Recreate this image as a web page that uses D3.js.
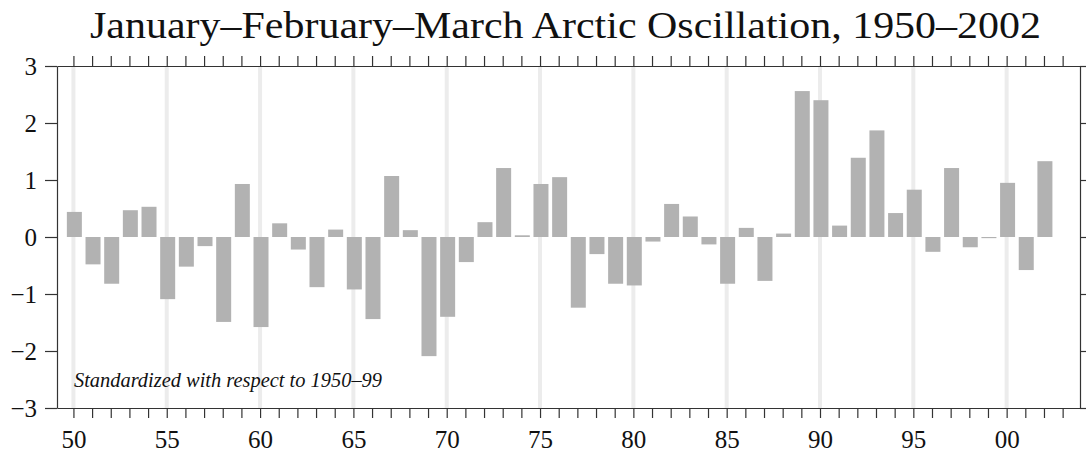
<!DOCTYPE html>
<html>
<head>
<meta charset="utf-8">
<script src="https://cdn.jsdelivr.net/npm/d3@7"></script>
<style>
  body { margin: 0; background: #fff; }
  svg { display: block; }
  .axis text { font-family: "Liberation Serif", "DejaVu Serif", serif; font-size: 25px; fill: #111; }
  .axis path, .axis line { stroke: #333; stroke-width: 1.2; }
</style>
</head>
<body>
<div id="chart"></div>
<script>
// years 1950..2002, JFM Arctic Oscillation index (standardized)
var years = d3.range(1950, 2003);
var aoValues = [
    0.44, -0.48, -0.82, 0.47, 0.53, -1.09, -0.52, -0.16, -1.49, 0.93,
    -1.58, 0.24, -0.22, -0.88, 0.13, -0.92, -1.44, 1.07, 0.12, -2.09,
    -1.40, -0.44, 0.26, 1.21, 0.03, 0.93, 1.05, -1.24, -0.30, -0.82,
    -0.85, -0.08, 0.58, 0.36, -0.13, -0.82, 0.16, -0.77, 0.06, 2.56,
    2.40, 0.20, 1.39, 1.87, 0.42, 0.83, -0.26, 1.21, -0.18, -0.02,
    0.95, -0.58, 1.33
];
var yTicks = [-3, -2, -1, 0, 1, 2, 3];
var xLabelYears = [1950, 1955, 1960, 1965, 1970, 1975, 1980, 1985, 1990, 1995, 2000];
var tickYears = d3.range(1950, 2004);

var width = 1086, height = 458;
var padding = { top: 66, bottom: 50, left: 57, right: 6 };

var svg = d3.select("#chart").append("svg")
    .attr("width", width)
    .attr("height", height);

var x = d3.scaleLinear()
    .domain([1949.12, 2003.93])
    .range([padding.left, width - padding.right]);

var y = d3.scaleLinear()
    .domain([-3, 3])
    .range([height - padding.bottom, padding.top]);

// title
svg.append("text")
    .attr("x", 90)
    .attr("y", 38)
    .attr("textLength", 951)
    .attr("lengthAdjust", "spacingAndGlyphs")
    .style("font-family", "'Liberation Serif', 'DejaVu Serif', serif")
    .style("font-size", "38px")
    .style("fill", "#111")
    .text("January\u2013February\u2013March Arctic Oscillation, 1950\u20132002");

// light vertical guides every 5 years
svg.append("g").selectAll("line")
    .data(xLabelYears)
    .enter().append("line")
    .attr("x1", function(d) { return x(d); })
    .attr("x2", function(d) { return x(d); })
    .attr("y1", y(3))
    .attr("y2", y(-3))
    .style("stroke", "#ececec")
    .style("stroke-width", 4);

// bars
var barW = 15;
svg.append("g").selectAll("rect")
    .data(aoValues)
    .enter().append("rect")
    .attr("x", function(d, i) { return x(years[i] + 0.05) - barW / 2; })
    .attr("y", function(d) { return y(Math.max(0, d)); })
    .attr("width", barW)
    .attr("height", function(d) { return Math.max(1, Math.abs(y(d) - y(0))); })
    .style("fill", "#b2b2b2");

// annotation
svg.append("text")
    .attr("x", 74)
    .attr("y", 387)
    .attr("textLength", 308)
    .attr("lengthAdjust", "spacingAndGlyphs")
    .style("font-family", "'Liberation Serif', 'DejaVu Serif', serif")
    .style("font-style", "italic")
    .style("font-size", "20px")
    .style("fill", "#111")
    .text("Standardized with respect to 1950\u201399");

// bottom axis: tick every year, label every 5
var xAxisBottom = d3.axisBottom(x)
    .tickValues(tickYears)
    .tickSize(10)
    .tickSizeOuter(0)
    .tickPadding(12)
    .tickFormat(function(d) { return d % 5 === 0 ? d3.format("02d")(d % 100) : ""; });
svg.append("g")
    .attr("class", "axis")
    .attr("transform", "translate(0," + y(-3) + ")")
    .call(xAxisBottom);

// top axis: ticks only
var xAxisTop = d3.axisTop(x)
    .tickValues(tickYears)
    .tickSize(10)
    .tickSizeOuter(0)
    .tickFormat("");
svg.append("g")
    .attr("class", "axis")
    .attr("transform", "translate(0," + y(3) + ")")
    .call(xAxisTop);

// left axis
var yAxisLeft = d3.axisLeft(y)
    .tickValues(yTicks)
    .tickSize(12)
    .tickSizeOuter(0)
    .tickPadding(8)
    .tickFormat(function(d) { return d < 0 ? "\u2212" + Math.abs(d) : d; });
svg.append("g")
    .attr("class", "axis")
    .attr("transform", "translate(" + padding.left + ",0)")
    .call(yAxisLeft);

// right axis
var yAxisRight = d3.axisRight(y)
    .tickValues(yTicks)
    .tickSize(6)
    .tickSizeOuter(0)
    .tickFormat("");
svg.append("g")
    .attr("class", "axis")
    .attr("transform", "translate(" + (width - padding.right) + ",0)")
    .call(yAxisRight);
</script>
</body>
</html>
